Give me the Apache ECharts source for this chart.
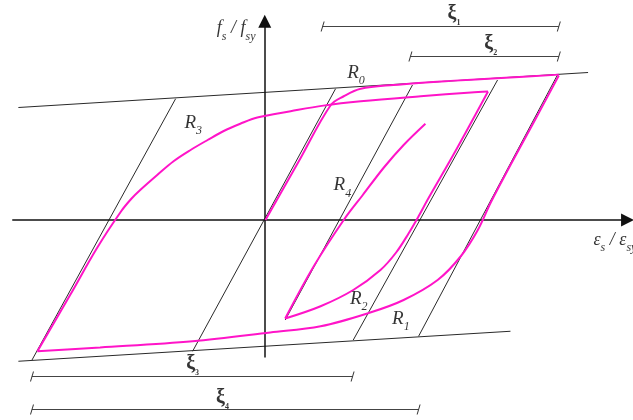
<!DOCTYPE html>
<html lang="en">
<head>
<meta charset="UTF-8">
<title>Menegotto-Pinto steel loop</title>
<script src="https://cdn.jsdelivr.net/npm/echarts@6/dist/echarts.min.js"></script>
<style>
    html, body { margin: 0; padding: 0; background: #fff; }
    #main { width: 633px; height: 420px; }
</style>
</head>
<body>
<div id="main"></div>
<script>
// x = eps_s / eps_sy, y = f_s / f_sy
var upperEnvelope = [[-3.63, 0.88], [4.74, 1.16]];
var lowerEnvelope = [[-3.63, -1.15], [3.60, -0.91]];
var elasticLines = [
    [[-3.43, -1.14], [-1.32, 0.95]],
    [[-1.07, -1.07], [1.03, 1.03]],
    [[0.29, -0.82], [2.16, 1.06]],
    [[1.29, -0.98], [3.41, 1.10]],
    [[2.25, -0.95], [4.29, 1.14]]
];
var axisX = [[-3.72, -0.02], [5.32, -0.02]];
var axisY = [[-0.01, -1.12], [-0.01, 1.57]];

// pink branches
var curveR0 = [[0, -0.02], [0.49, 0.45], [0.96, 0.90], [1.15, 0.97], [1.40, 1.03], [1.88, 1.06], [2.72, 1.093], [3.46, 1.116], [4.31, 1.143]];
var curveR1 = [[4.31, 1.136], [3.94, 0.76], [3.60, 0.42], [3.31, 0.12], [3.12, -0.10], [2.87, -0.31], [2.53, -0.50],
    [2.03, -0.66], [1.54, -0.76], [0.81, -0.87], [0.07, -0.92], [-1.07, -0.99], [-2.43, -1.04], [-3.35, -1.07]];
var curveR3 = [[-3.35, -1.07], [-2.87, -0.62], [-2.47, -0.24], [-2.12, 0.05], [-1.97, 0.15], [-1.84, 0.22], [-1.59, 0.34],
    [-1.35, 0.45], [-1.10, 0.54], [-0.85, 0.62], [-0.62, 0.69], [-0.37, 0.75], [-0.12, 0.80], [0.37, 0.85], [0.85, 0.895],
    [1.40, 0.93], [2.28, 0.97], [3.02, 1.0], [3.27, 1.008]];
var curveR2 = [[3.27, 1.008], [2.79, 0.53], [2.38, 0.14], [2.25, 0.01], [2.10, -0.13], [1.92, -0.28], [1.69, -0.42],
    [1.29, -0.58], [0.81, -0.71], [0.29, -0.808]];
var curveR4 = [[0.29, -0.808], [0.71, -0.39], [1.15, -0.02], [1.43, 0.18], [1.74, 0.40], [2.03, 0.58], [2.35, 0.75]];

// dimension bars
var dimBars = [
    [[0.84, 1.528], [4.31, 1.528]],
    [[2.13, 1.288], [4.31, 1.288]],
    [[-3.43, -1.272], [1.28, -1.272]],
    [[-3.43, -1.536], [2.25, -1.536]]
];

var annotations = [
    ['{m|R}{s|0}', [1.33, 1.14]],
    ['{m|R}{s|3}', [-1.06, 0.74]],
    ['{m|R}{s|4}', [1.13, 0.24]],
    ['{m|R}{s|2}', [1.37, -0.67]],
    ['{m|R}{s|1}', [1.99, -0.83]],
    ['{f|f}{fs|s}{f| / f}{fs|sy}', [-0.43, 1.49]],
    ['{x|ξ}{xs|1}', [2.77, 1.62]],
    ['{x|ξ}{xs|2}', [3.31, 1.38]],
    ['{x|ξ}{xs|3}', [-1.07, -1.18]],
    ['{x|ξ}{xs|4}', [-0.63, -1.455]]
];
var axisTitleX = ['{e|ε}{es|s}{e| / ε}{es|sy}', [4.82, -0.20]];

var pink = '#ff14c8';
var ink = '#2a2a2a';

function seg(pts, color, width, smooth, z) {
    return {
        type: 'line', data: pts, symbol: 'none', smooth: smooth, silent: true,
        lineStyle: { color: color, width: width }, z: z
    };
}

var serif = 'Liberation Serif';
var rich = {
    m: { fontFamily: serif, fontStyle: 'italic', fontSize: 19, color: '#000', padding: [0, 0, 5, 0] },
    s: { fontFamily: serif, fontStyle: 'italic', fontSize: 12, color: '#000', verticalAlign: 'bottom' },
    f: { fontFamily: serif, fontStyle: 'italic', fontSize: 18, color: '#000', padding: [0, 0, 5, 0] },
    fs: { fontFamily: serif, fontStyle: 'italic', fontSize: 12, color: '#000', verticalAlign: 'bottom' },
    x: { fontFamily: serif, fontWeight: 'bold', fontSize: 20, color: '#000', padding: [0, 0, 3, 0] },
    xs: { fontFamily: serif, fontWeight: 'bold', fontSize: 8, color: '#000', verticalAlign: 'bottom' },
    e: { fontFamily: serif, fontStyle: 'italic', fontSize: 18, color: '#000', padding: [0, 0, 4, 0] },
    es: { fontFamily: serif, fontStyle: 'italic', fontSize: 12, color: '#000', verticalAlign: 'bottom' }
};

var series = [];
series.push(seg(upperEnvelope, ink, 1, false, 2));
series.push(seg(lowerEnvelope, ink, 1, false, 2));
elasticLines.forEach(function (l) { series.push(seg(l, ink, 1, false, 2)); });

series.push({
    type: 'lines', coordinateSystem: 'cartesian2d', silent: true, z: 3,
    symbol: ['none', 'triangle'], symbolSize: [9, 13],
    lineStyle: { color: '#111', width: 1.5, opacity: 1 },
    data: [{ coords: axisX }, { coords: axisY }]
});

dimBars.forEach(function (b) {
    series.push({
        type: 'line', data: b, silent: true, z: 2,
        symbol: 'path://M3,0 L4,0 L1,10 L0,10 Z', symbolSize: [4, 10], showSymbol: true,
        itemStyle: { color: '#333' },
        lineStyle: { color: '#444', width: 1.2 }
    });
});

[curveR0, curveR1, curveR3, curveR2, curveR4].forEach(function (c) {
    series.push(seg(c, pink, 2, 0.35, 5));
});

series.push({
    type: 'scatter', symbolSize: 0, silent: true, z: 6,
    data: annotations.map(function (a) {
        return { value: a[1], label: { show: true, position: 'inside', formatter: a[0], rich: rich } };
    }).concat([{
        value: axisTitleX[1],
        label: { show: true, position: 'right', distance: 0, formatter: axisTitleX[0], rich: rich }
    }])
});

var myChart = echarts.init(document.getElementById('main'));
myChart.setOption({
    animation: false,
    backgroundColor: '#fff',
    grid: { left: 0, right: 0, top: 0, bottom: 0 },
    xAxis: { type: 'value', min: -3.9, max: 5.4, show: false },
    yAxis: { type: 'value', min: -1.62, max: 1.74, show: false },
    series: series
});
</script>
</body>
</html>
